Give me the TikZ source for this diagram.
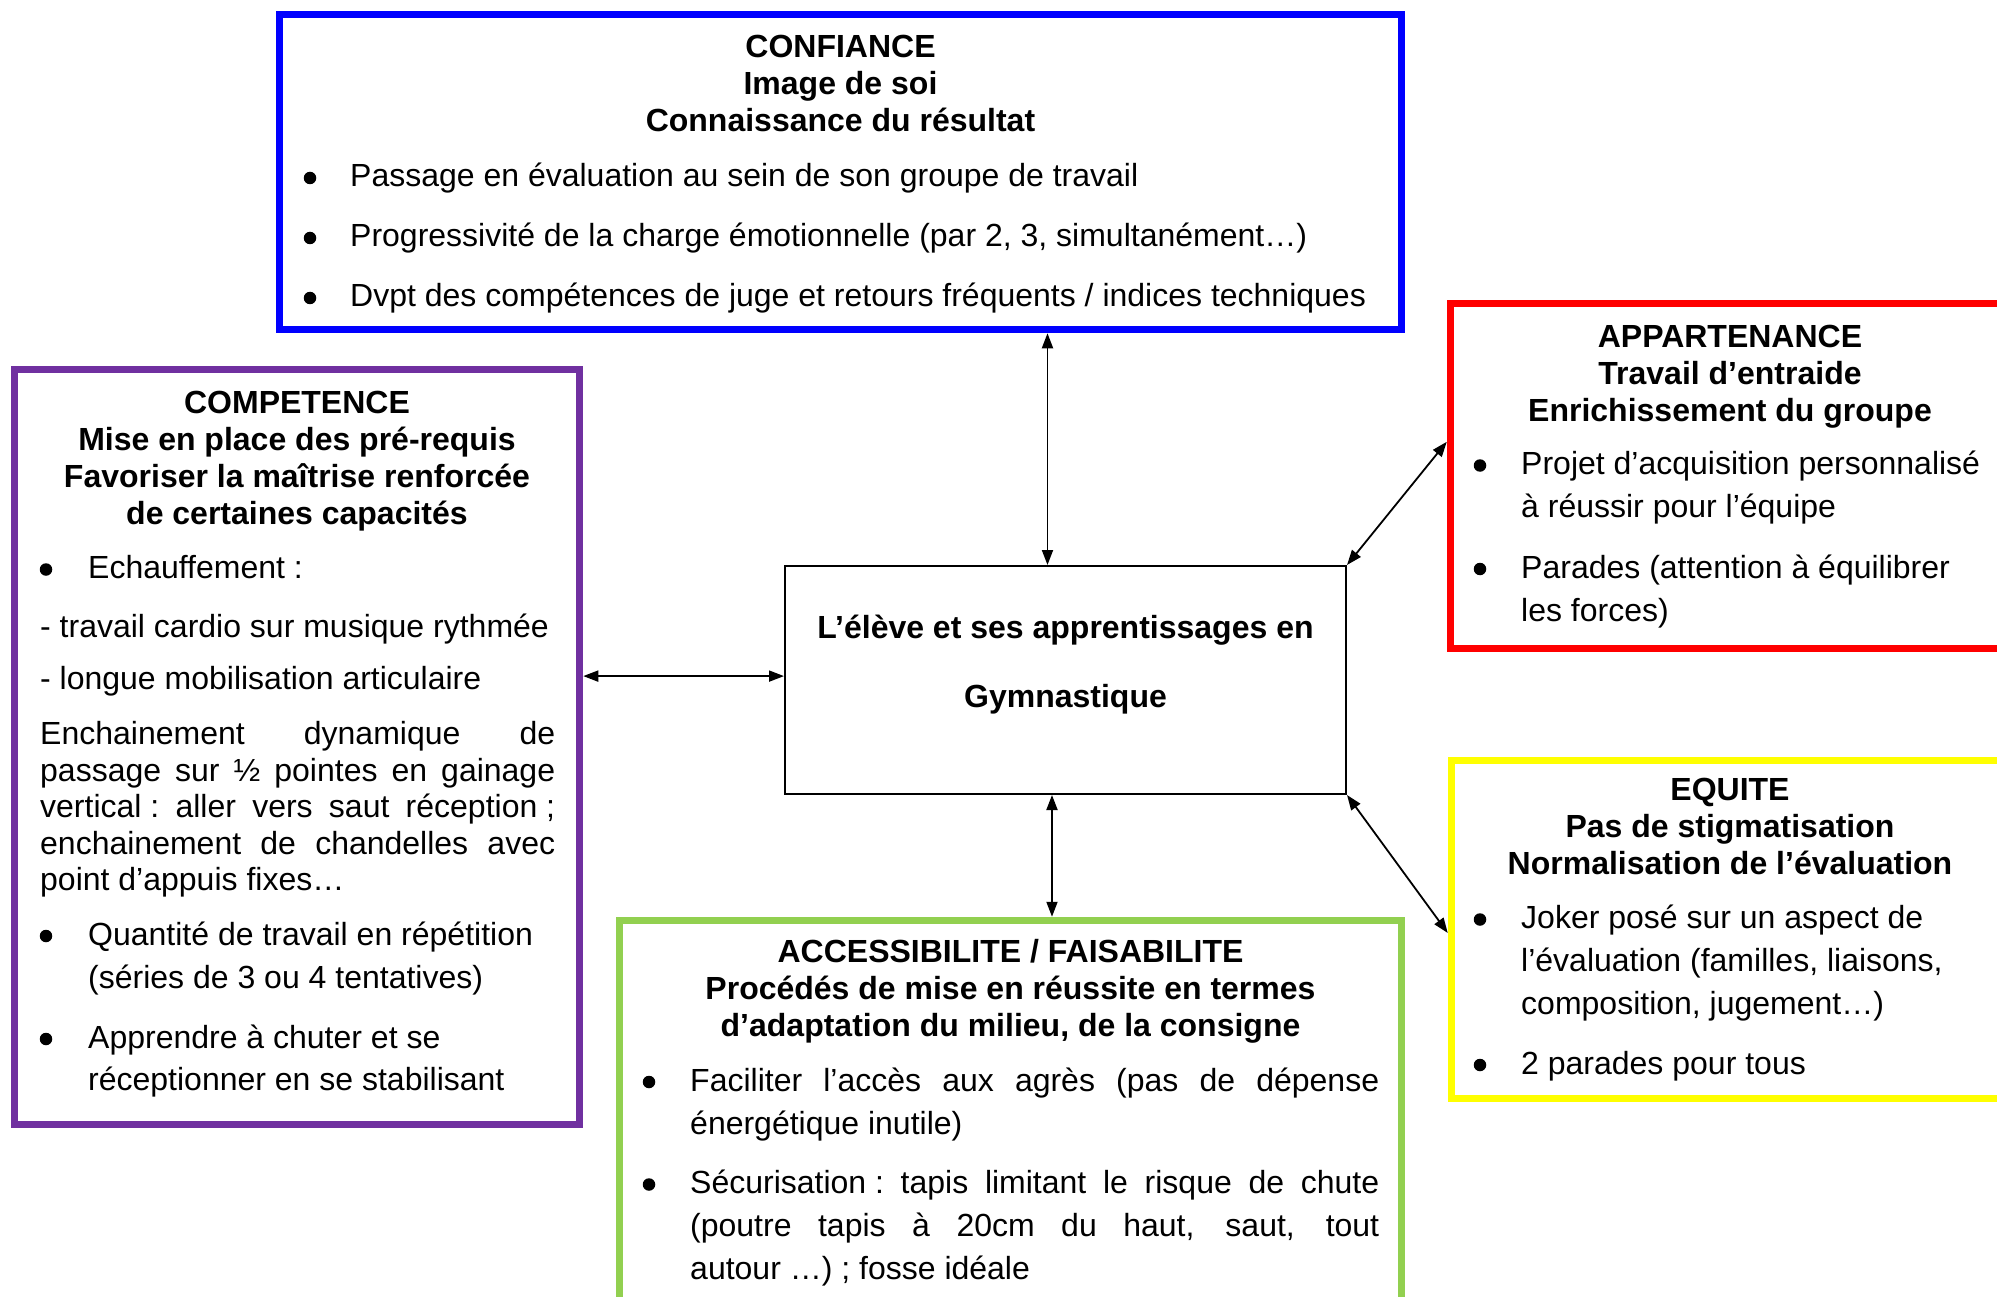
\documentclass[tikz,border=0pt]{standalone}
\usepackage{fontspec}
\setmainfont{Liberation Sans}
\usetikzlibrary{arrows.meta,calc}

\definecolor{cfblue}{HTML}{0000FF}
\definecolor{apred}{HTML}{FF0000}
\definecolor{eqyellow}{HTML}{FFFF00}
\definecolor{acgreen}{HTML}{92D050}
\definecolor{cppurple}{HTML}{7030A0}

\begin{document}
\begin{tikzpicture}[x=1pt,y=-1pt,
  panel/.style={draw, rectangle, line width=7.5pt, inner sep=0pt},
  txt/.style={font=\fontsize{32}{37}\selectfont, inner sep=0pt, anchor=base west},
  head/.style={font=\fontsize{32}{37}\selectfont\bfseries, inner sep=0pt, anchor=base},
  bul/.style={circle, fill=black, inner sep=0pt, minimum size=12.5pt},
  link/.style={line width=1.8pt, {Triangle[length=15pt,width=11pt]}-{Triangle[length=15pt,width=11pt]}}
]
\useasboundingbox (0,0) rectangle (1997,1297);
\fill[white] (0,0) rectangle (1997,1297);
\clip (0,0) rectangle (1997,1297);

% ---- frames ----
\node[panel, draw=cfblue, minimum width=1122pt, minimum height=315pt] (conf) at (840.5,172) {};
\node[panel, draw=cppurple, minimum width=565pt, minimum height=755pt] (comp) at (297,747) {};
\node[panel, draw=apred, minimum width=559pt, minimum height=345pt] (appart) at (1730,476) {};
\node[panel, draw=eqyellow, minimum width=557pt, minimum height=338pt] (equite) at (1730,929.5) {};
\node[panel, draw=acgreen, minimum width=782pt, minimum height=386pt] (access) at (1010.5,1113.5) {};
\node[draw, rectangle, line width=2pt, inner sep=0pt, minimum width=561pt, minimum height=228pt] (central) at (1065.5,680) {};

% ---- CONFIANCE ----
\node[head] (cfh1) at (840.5,58) {CONFIANCE};
\node[head] (cfh2) at (840.5,95) {Image de soi};
\node[head] (cfh3) at (840.5,132) {Connaissance du résultat};
\node[bul] (cfd1) at (310,178) {};
\node[txt] (cft1) at (350,187) {Passage en évaluation au sein de son groupe de travail};
\node[bul] (cfd2) at (310,238) {};
\node[txt] (cft2) at (350,247) {Progressivité de la charge émotionnelle (par 2, 3, simultanément…)};
\node[bul] (cfd3) at (310,298) {};
\node[txt] (cft3) at (350,307) {Dvpt des compétences de juge et retours fréquents / indices techniques};

% ---- COMPETENCE ----
\node[head] (cph1) at (297,413.5) {COMPETENCE};
\node[head] (cph2) at (297,450.5) {Mise en place des pré-requis};
\node[head] (cph3) at (297,487) {Favoriser la maîtrise renforcée};
\node[head] (cph4) at (297,524) {de certaines capacités};
\node[bul] (cpd1) at (46,569.5) {};
\node[txt] (cpt1) at (88,578.5) {Echauffement :};
\node[txt] (cpt2) at (40,637) {- travail cardio sur musique rythmée};
\node[txt] (cpt3) at (40,689.5) {- longue mobilisation articulaire};
\node[txt] (cpt4) at (40,744) {\makebox[515pt][s]{Enchainement dynamique de}};
\node[txt] (cpt5) at (40,781) {\makebox[515pt][s]{passage sur ½ pointes en gainage}};
\node[txt] (cpt6) at (40,817.5) {\makebox[515pt][s]{\hbox{vertical :} aller vers saut \hbox{réception ;}}};
\node[txt] (cpt7) at (40,854) {\makebox[515pt][s]{enchainement de chandelles avec}};
\node[txt] (cpt8) at (40,890.5) {point d’appuis fixes…};
\node[bul] (cpd2) at (46,936) {};
\node[txt] (cpt9) at (88,945) {Quantité de travail en répétition};
\node[txt] (cpt10) at (88,988) {(séries de 3 ou 4 tentatives)};
\node[bul] (cpd3) at (46,1039) {};
\node[txt] (cpt11) at (88,1048) {Apprendre à chuter et se};
\node[txt] (cpt12) at (88,1090) {réceptionner en se stabilisant};

% ---- centre ----
\node[head] (ceh1) at (1065.5,638) {L’élève et ses apprentissages en};
\node[head] (ceh2) at (1065.5,707) {Gymnastique};

% ---- APPARTENANCE ----
\node[head] (aph1) at (1730,347) {APPARTENANCE};
\node[head] (aph2) at (1730,384) {Travail d’entraide};
\node[head] (aph3) at (1730,421) {Enrichissement du groupe};
\node[bul] (apd1) at (1480,465.5) {};
\node[txt] (apt1) at (1521,474.5) {Projet d’acquisition personnalisé};
\node[txt] (apt2) at (1521,517.5) {à réussir pour l’équipe};
\node[bul] (apd2) at (1480,569) {};
\node[txt] (apt3) at (1521,578) {Parades (attention à équilibrer};
\node[txt] (apt4) at (1521,621) {les forces)};

% ---- EQUITE ----
\node[head] (eqh1) at (1730,800.5) {EQUITE};
\node[head] (eqh2) at (1730,837.5) {Pas de stigmatisation};
\node[head] (eqh3) at (1730,874) {Normalisation de l’évaluation};
\node[bul] (eqd1) at (1480,919.5) {};
\node[txt] (eqt1) at (1521,928.5) {Joker posé sur un aspect de};
\node[txt] (eqt2) at (1521,971.5) {l’évaluation (familles, liaisons,};
\node[txt] (eqt3) at (1521,1014) {composition, jugement…)};
\node[bul] (eqd2) at (1480,1065) {};
\node[txt] (eqt4) at (1521,1074) {2 parades pour tous};

% ---- ACCESSIBILITE ----
\node[head] (ach1) at (1010.5,962.5) {ACCESSIBILITE / FAISABILITE};
\node[head] (ach2) at (1010.5,999.5) {Procédés de mise en réussite en termes};
\node[head] (ach3) at (1010.5,1036.5) {d’adaptation du milieu, de la consigne};
\node[bul] (acd1) at (649,1082) {};
\node[txt] (act1) at (690,1091) {\makebox[689pt][s]{Faciliter l’accès aux agrès (pas de dépense}};
\node[txt] (act2) at (690,1134) {énergétique inutile)};
\node[bul] (acd2) at (649,1184.5) {};
\node[txt] (act3) at (690,1193.5) {\makebox[689pt][s]{\hbox{Sécurisation :} tapis limitant le risque de chute}};
\node[txt] (act4) at (690,1236.5) {\makebox[689pt][s]{(poutre tapis à 20cm du haut, saut, tout}};
\node[txt] (act5) at (690,1279.5) {autour …) ; fosse idéale};

% ---- connectors ----
\coordinate (cN) at ($(central.north west)!0.468!(central.north east)$);
\coordinate (cS) at ($(central.south west)!0.476!(central.south east)$);
\coordinate (cW) at ($(central.north west)!0.483!(central.south west)$);
\coordinate (rW) at ($(appart.north west)!0.403!(appart.south west)$);
\coordinate (yW) at ($(equite.north west)!0.51!(equite.south west)$);

\draw[link] (cN |- conf.south) -- (cN);
\draw[link] (cS) -- (cS |- access.north);
\draw[link] (cW -| comp.east) -- (cW);
\draw[link] (central.north east) -- (rW);
\draw[link] (central.south east) -- (yW);
\end{tikzpicture}
\end{document}
